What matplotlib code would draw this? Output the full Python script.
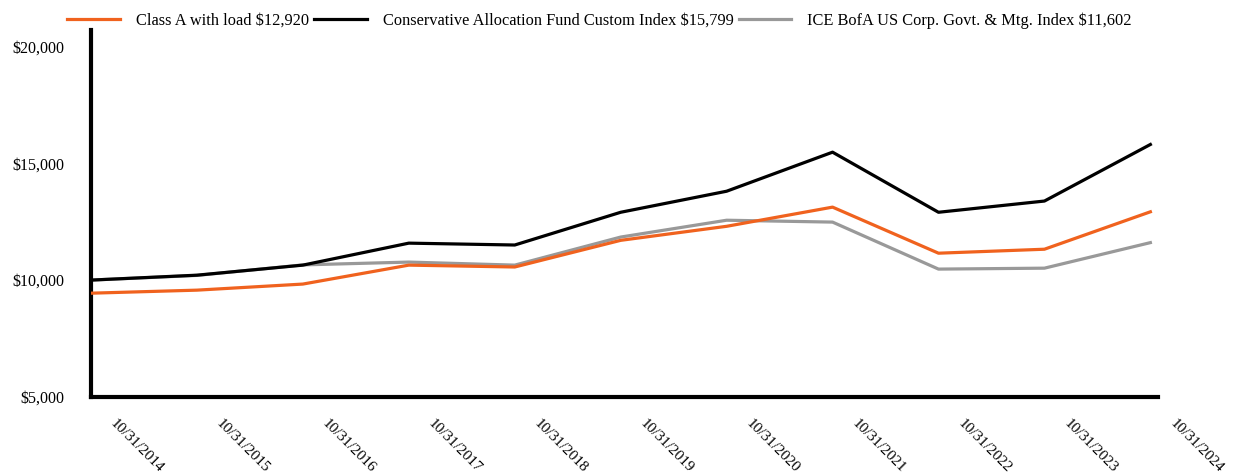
import matplotlib
matplotlib.use("Agg")
import matplotlib.pyplot as plt
import matplotlib.transforms as mtransforms
from matplotlib.ticker import FuncFormatter

dates = ["10/31/2014", "10/31/2015", "10/31/2016", "10/31/2017", "10/31/2018", "10/31/2019",
         "10/31/2020", "10/31/2021", "10/31/2022", "10/31/2023", "10/31/2024"]
class_a = [9440, 9570, 9830, 10640, 10560, 11700, 12300, 13120, 11150, 11320, 12920]
custom_index = [10000, 10210, 10640, 11580, 11500, 12900, 13800, 15470, 12900, 13380, 15799]
ice_bofa = [10000, 10200, 10650, 10770, 10640, 11840, 12560, 12480, 10470, 10510, 11602]

labels = ["Class A with load $12,920",
          "Conservative Allocation Fund Custom Index $15,799",
          "ICE BofA US Corp. Govt. & Mtg. Index $11,602"]
colors = ["#f0621e", "#000000", "#999999"]

plt.rcParams["font.family"] = ["Liberation Serif", "DejaVu Serif"]

fig = plt.figure(figsize=(12.33, 4.74), dpi=100)
ax = fig.add_axes([0.0738, 0.1624, 0.8652, 0.7746])

x = list(range(len(dates)))
# gray first so the black and orange lines sit on top
l3, = ax.plot(x, ice_bofa, color=colors[2], lw=2.3, label=labels[2], zorder=2)
l2, = ax.plot(x, custom_index, color=colors[1], lw=2.3, label=labels[1], zorder=3)
l1, = ax.plot(x, class_a, color=colors[0], lw=2.3, label=labels[0], zorder=4)

ax.set_xlim(0, 10.07)
ax.set_ylim(5000, 20700)
ax.set_yticks([5000, 10000, 15000, 20000])
ax.yaxis.set_major_formatter(FuncFormatter(lambda v, p: "${:,.0f}".format(v)))
ax.set_xticks(x)
ax.set_xticklabels(dates, rotation=-45, ha="left", va="top", rotation_mode="anchor")
ax.tick_params(axis="both", length=0)
ax.tick_params(axis="y", pad=19, labelsize=11.5)
ax.tick_params(axis="x", pad=14, labelsize=11)

shift = mtransforms.ScaledTranslation(0.26, 0, fig.dpi_scale_trans)
for lab in ax.get_xticklabels():
    lab.set_transform(lab.get_transform() + shift)

for side in ["top", "right"]:
    ax.spines[side].set_visible(False)
for side in ["left", "bottom"]:
    ax.spines[side].set_linewidth(3)

fig.legend(handles=[l1, l2, l3], loc="center left", bbox_to_anchor=(0.0545, 0.957), ncol=3,
           frameon=False, fontsize=11.8, handlelength=3.2, columnspacing=0.3,
           handletextpad=1.0, borderaxespad=0, borderpad=0)

fig.savefig("out.png", dpi=100)
